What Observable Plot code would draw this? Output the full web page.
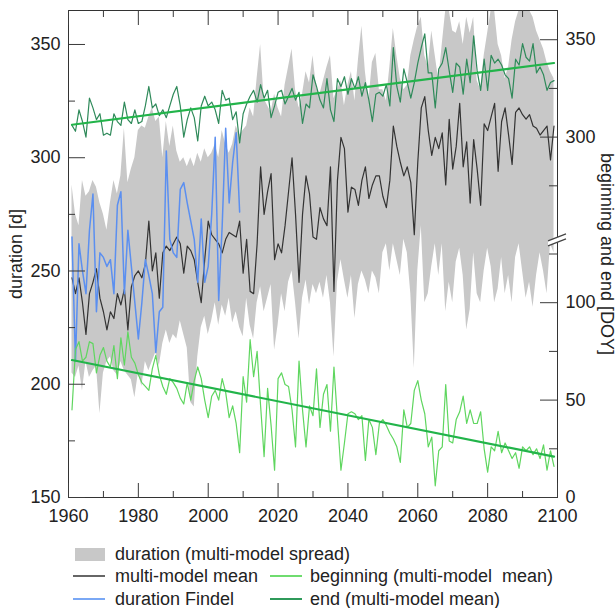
<!DOCTYPE html>
<html><head><meta charset="utf-8">
<script src="https://cdn.jsdelivr.net/npm/d3@7"></script>
<script src="https://cdn.jsdelivr.net/npm/@observablehq/plot@0.6"></script>
<style>
body{margin:0;background:#fff;font-family:'Liberation Sans',Arial,sans-serif;}
#wrap{position:relative;width:616px;height:608px;overflow:hidden;background:#fff}
.lg{position:absolute;font-size:18px;color:#222;white-space:pre;line-height:18px}
.sw{position:absolute}
</style></head><body><div id="wrap"></div>
<script>
const startYear = 1961;
const spreadUpper = [288,275,270,290,283,285,290,287,280,275,268,280,290,284,292,313,289,295,300,312,314,313,318,322,316,318,300,316,305,314,303,298,300,296,300,
296,302,298,304,300,302,306,300,312,306,302,306,314,310,312,314,322,318,335,350,326,323,320,328,322,318,332,340,348,330,322,328,338,333,345,
331,328,334,340,345,326,330,334,323,332,338,325,343,358,338,325,342,346,
330,330,325,340,357,345,335,330,332,345,352,358,362,345,340,356,345,334,350,365,365,356,355,360,350,362,355,362,334,330,345,355,365,365,350,345,335,340,352,360,365,365,365,365,362,356,352,348,342,338,335];
const spreadLower = [205,203,208,197,210,203,206,208,187,205,210,212,206,204,210,206,204,202,194,205,199,210,206,210,214,208,218,224,218,222,220,228,222,216,192,190,
212,225,230,222,228,236,226,235,230,238,227,232,225,221,238,226,220,236,243,232,238,244,215,226,240,232,245,250,236,220,238,246,235,244,
240,245,238,248,236,212,245,255,246,238,248,229,244,250,246,240,250,247,
240,258,262,250,262,255,248,264,258,240,207,250,270,236,240,252,262,248,262,232,245,236,254,260,248,224,233,258,240,236,250,260,252,236,242,256,240,248,236,256,262,250,238,245,234,248,258,250,240,262,258];
const meanDuration = [247,240,247,236,222,240,245,251,238,232,224,232,229,240,235,242,224,243,248,250,247,253,272,250,258,238,258,261,259,262,265,262,249,261,259,
255,245,236,255,272,266,264,262,258,264,267,266,265,272,249,264,241,240,262,296,275,285,293,255,262,258,270,285,300,275,245,275,292,284,265,
264,278,273,270,296,241,290,309,304,276,287,286,279,290,296,282,288,292,
292,283,278,290,314,305,298,292,296,289,266,298,322,327,312,301,309,304,311,288,317,295,305,324,296,307,280,308,295,279,315,312,318,324,294,316,322,310,297,320,322,319,317,319,314,313,310,312,314,299,314];
const beginningDOY = [45,76,80,70,72,80,79,64,73,77,70,67,78,61,82,68,85,72,69,63,59,57,55,66,73,63,57,53,61,59,56,51,48,59,50,
60,67,61,50,41,52,55,50,61,54,41,47,38,23,62,49,81,62,75,47,21,56,37,14,61,64,58,57,45,26,70,45,26,47,
42,66,36,53,58,34,67,40,14,28,43,44,43,40,42,19,40,36,22,38,40,37,33,30,26,18,45,36,38,55,60,50,43,26,31,6,24,26,58,29,28,40,44,52,38,45,38,38,44,25,13,26,24,34,23,28,24,20,23,15,26,24,26,22,25,20,27,14,24,16];
const endDOY = [306,303,314,308,300,320,315,309,312,301,302,301,312,308,306,318,309,307,314,307,308,316,326,315,317,311,314,310,316,322,326,316,300,309,315,
310,298,316,321,316,318,314,307,324,319,320,309,313,297,312,317,321,324,318,327,320,324,310,316,323,324,317,321,325,319,323,307,317,315,332,
326,319,315,330,314,308,330,326,331,322,330,325,331,321,328,319,308,322,
323,321,327,316,346,326,318,335,328,320,328,338,346,353,333,333,315,335,338,346,334,323,338,336,322,340,328,352,334,324,340,324,342,338,340,337,332,330,320,340,337,348,341,339,348,333,336,332,324,328,329];
const findelStart = 1961;
const findelDuration = [265,210,262,250,240,268,284,232,258,256,252,255,240,279,285,240,268,252,236,220,236,255,248,240,214,232,234,303,264,258,256,286,289,280,272,264,245,273,245,252,275,309,237,270,313,280,298,311,276];

const xMajorTicks = [1960,1980,2000,2020,2040,2060,2080,2100];
const xMinorTicks = [1970,1990,2010,2030,2050,2070,2090];
const yMajorTicks = [150,200,250,300,350];
const yMinorTicks = [175,225,275,325];
const doyMajorTicks = [0,50,100,300,350];
const doyMinorTicks = [25,75,125,275,325];
const doyBreak = [132, 247];
const yDomain = [150, 365];

const rows = spreadUpper.map((u, i) => ({year: startYear + i, upper: u, lower: spreadLower[i], mean: meanDuration[i], begin: beginningDOY[i], end: endDOY[i]}));
const findel = findelDuration.map((v, i) => ({year: findelStart + i, dur: v}));

const gap = doyBreak[1] - doyBreak[0];
const kDoy = (yDomain[1] - yDomain[0]) / (365 - gap);
const doyToY = d => yDomain[0] + kDoy * (d >= doyBreak[1] ? d - gap : d);
const doyLabel = new Map(doyMajorTicks.map(v => [doyToY(v), String(v)]));

const tickStroke = "#3a3a3a";
const font = "'Liberation Sans', Arial, sans-serif";

function breakMark(index, scales, values, dims) {
  const x = dims.width - dims.marginRight;
  const y = scales.y(doyToY(doyBreak[0]));
  const g = d3.create("svg:g");
  g.append("path").attr("d", `M${x-9},${y+1}L${x+9},${y-6}L${x+9},${y-1}L${x-9},${y+6}Z`).attr("fill", "#fff");
  g.append("path").attr("d", `M${x-9},${y+1}L${x+9},${y-6}M${x-9},${y+6}L${x+9},${y-1}`).attr("stroke", "#444").attr("stroke-width", 1.2).attr("fill", "none");
  return g.node();
}

const chart = Plot.plot({
  width: 616, height: 535,
  marginLeft: 68, marginRight: 59, marginTop: 10, marginBottom: 38,
  x: {domain: [1960, 2100]},
  y: {domain: yDomain},
  style: {fontFamily: font, fontSize: "18px", color: "#222", background: "#fff"},
  marks: [
    Plot.areaY(rows, {x: "year", y1: "lower", y2: "upper", fill: "#c8c8c8"}),
    Plot.lineY(rows, {x: "year", y: "mean", stroke: "#333", strokeWidth: 1.2}),
    Plot.lineY(findel, {x: "year", y: "dur", stroke: "#5b8ff0", strokeWidth: 1.5}),
    Plot.lineY(rows, {x: "year", y: d => doyToY(d.begin), stroke: "#5fd65f", strokeWidth: 1.2}),
    Plot.lineY(rows, {x: "year", y: d => doyToY(d.end), stroke: "#2f8a5a", strokeWidth: 1.2}),
    Plot.linearRegressionY(rows, {x: "year", y: d => doyToY(d.begin), stroke: "#22b44a", strokeWidth: 2.2, ci: 0}),
    Plot.linearRegressionY(rows, {x: "year", y: d => doyToY(d.end), stroke: "#22b44a", strokeWidth: 2.2, ci: 0}),
    Plot.frame({stroke: "#333"}),
    Plot.axisX(xMajorTicks, {anchor: "top", frameAnchor: "bottom", tickSize: 15, fill: "none", stroke: tickStroke}),
    Plot.axisX(xMinorTicks, {anchor: "top", frameAnchor: "bottom", tickSize: 7, fill: "none", stroke: tickStroke}),
    Plot.axisX(xMajorTicks, {anchor: "bottom", frameAnchor: "top", tickSize: 15, fill: "none", stroke: tickStroke}),
    Plot.axisX(xMinorTicks, {anchor: "bottom", frameAnchor: "top", tickSize: 7, fill: "none", stroke: tickStroke}),
    Plot.axisX(xMajorTicks, {anchor: "bottom", tickSize: 0, stroke: "none", tickPadding: 12, tickFormat: "d", fontSize: 18, fill: "#222", label: null}),
    Plot.axisY(yMajorTicks, {anchor: "right", frameAnchor: "left", tickSize: 16, fill: "none", stroke: tickStroke}),
    Plot.axisY(yMinorTicks, {anchor: "right", frameAnchor: "left", tickSize: 6, fill: "none", stroke: tickStroke}),
    Plot.axisY(yMajorTicks, {anchor: "left", tickSize: 0, stroke: "none", tickPadding: 8, fontSize: 18, fill: "#222", label: null}),
    Plot.axisY(doyMajorTicks.map(doyToY), {anchor: "left", frameAnchor: "right", tickSize: 17, fill: "none", stroke: tickStroke}),
    Plot.axisY(doyMinorTicks.map(doyToY), {anchor: "left", frameAnchor: "right", tickSize: 8, fill: "none", stroke: tickStroke}),
    Plot.axisY(doyMajorTicks.map(doyToY), {anchor: "right", tickSize: 0, stroke: "none", tickPadding: 8, tickFormat: d => doyLabel.get(d), fontSize: 18, fill: "#222", label: null}),
    breakMark,
    Plot.text(["duration [d]"], {frameAnchor: "left", dx: -52, rotate: -90, textAnchor: "middle", lineAnchor: "middle", fontSize: 18, fill: "#222"}),
    Plot.text(["beginning and end [DOY]"], {frameAnchor: "right", dx: 49, rotate: 90, textAnchor: "middle", lineAnchor: "middle", fontSize: 18, fill: "#222"})
  ]
});

const wrap = document.getElementById("wrap");
wrap.appendChild(chart);

const legendItems = [
  {kind: "rect", color: "#c8c8c8", x: 75, y: 554, text: "duration (multi-model spread)", tx: 115},
  {kind: "line", color: "#666", x: 73, y: 576, text: "multi-model mean", tx: 115},
  {kind: "line", color: "#6fdc6f", x: 270, y: 576, text: "beginning (multi-model  mean)", tx: 310},
  {kind: "line", color: "#7aa8f5", x: 73, y: 599, text: "duration Findel", tx: 115},
  {kind: "line", color: "#2f9a5a", x: 270, y: 599, text: "end (multi-model mean)", tx: 310}
];
for (const it of legendItems) {
  const sw = document.createElement("div");
  sw.className = "sw";
  if (it.kind === "rect") {
    Object.assign(sw.style, {left: it.x + "px", top: (it.y - 6.5) + "px", width: "30px", height: "13px", background: it.color});
  } else {
    Object.assign(sw.style, {left: it.x + "px", top: (it.y - 1) + "px", width: "32px", height: "2px", background: it.color});
  }
  wrap.appendChild(sw);
  const t = document.createElement("div");
  t.className = "lg";
  t.textContent = it.text;
  Object.assign(t.style, {left: it.tx + "px", top: (it.y - 9) + "px"});
  wrap.appendChild(t);
}
</script></body></html>
